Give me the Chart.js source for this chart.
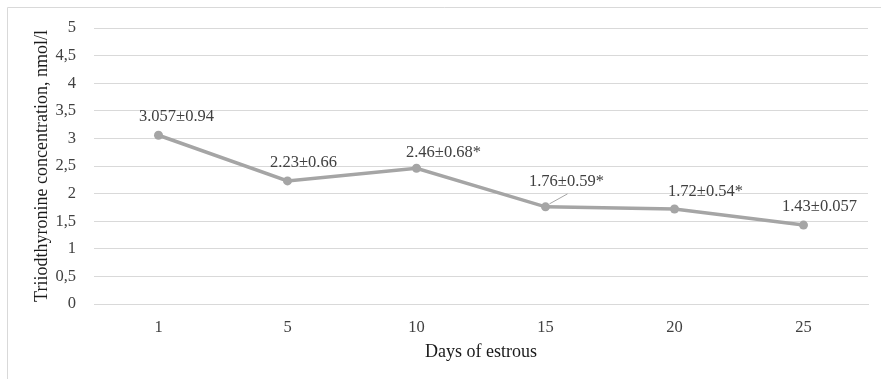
<!DOCTYPE html>
<html>
<head>
<meta charset="utf-8">
<script src="https://cdn.jsdelivr.net/npm/chart.js@4/dist/chart.umd.min.js"></script>
<style>
  html, body { margin: 0; padding: 0; background: #ffffff; }
  #wrap { position: absolute; left: 0; top: 0; width: 881px; height: 379px; }
</style>
</head>
<body>
<div id="wrap"><canvas id="c" width="881" height="379"></canvas></div>
<script>
// Days of the oestrous cycle (categories)
const days = ['1', '5', '10', '15', '20', '25'];
// Mean T3 concentration, nmol/l
const meanT3 = [3.057, 2.23, 2.46, 1.76, 1.72, 1.43];
// Standard deviation
const sdT3 = [0.94, 0.66, 0.68, 0.59, 0.54, 0.057];
// Significance marks
const sigMarks = ['', '', '*', '*', '*', ''];
// Value axis tick labels (decimal comma)
const yTickLabels = ['0', '0,5', '1', '1,5', '2', '2,5', '3', '3,5', '4', '4,5', '5'];

const SERIF = '"Liberation Serif", "Times New Roman", serif';

// Label placement relative to each point (dx, dy); a leader is drawn when flagged
const labelPlacement = [
  { dx: 18, dy: -19 },
  { dx: 16, dy: -18 },
  { dx: 27, dy: -16 },
  { dx: 21, dy: -25, leader: true },
  { dx: 31, dy: -17 },
  { dx: 16, dy: -18 }
];

// Thin frame along the top and left edges
const framePlugin = {
  id: 'frame',
  beforeDraw(chart) {
    const ctx = chart.ctx;
    ctx.save();
    ctx.strokeStyle = '#d9d9d9';
    ctx.lineWidth = 1;
    ctx.beginPath();
    ctx.moveTo(7.5, chart.height);
    ctx.lineTo(7.5, 7.5);
    ctx.lineTo(chart.width, 7.5);
    ctx.stroke();
    ctx.restore();
  }
};

// "mean±sd*" labels next to the points
const valueLabels = {
  id: 'valueLabels',
  afterDatasetsDraw(chart) {
    const ctx = chart.ctx;
    const meta = chart.getDatasetMeta(0);
    ctx.save();
    ctx.font = '16.5px ' + SERIF;
    ctx.fillStyle = '#404040';
    ctx.textAlign = 'center';
    ctx.textBaseline = 'middle';
    meta.data.forEach((pt, i) => {
      const p = labelPlacement[i];
      const text = meanT3[i] + '±' + sdT3[i] + sigMarks[i];
      const lx = pt.x + p.dx, ly = pt.y + p.dy;
      if (p.leader) {
        ctx.strokeStyle = '#a5a5a5';
        ctx.lineWidth = 1;
        ctx.beginPath();
        ctx.moveTo(pt.x + 4, pt.y - 3);
        ctx.lineTo(lx + 1, ly + 12);
        ctx.stroke();
      }
      ctx.fillText(text, lx, ly);
    });
    ctx.restore();
  }
};

new Chart(document.getElementById('c'), {
  type: 'line',
  data: {
    labels: days,
    datasets: [{
      data: meanT3,
      borderColor: '#a5a5a5',
      backgroundColor: '#a5a5a5',
      borderWidth: 3.5,
      pointRadius: 4.5,
      pointBorderWidth: 0,
      pointBackgroundColor: '#a5a5a5',
      tension: 0,
      fill: false
    }]
  },
  options: {
    responsive: false,
    animation: false,
    devicePixelRatio: 1,
    layout: { padding: { top: 28, right: 13, bottom: 0, left: 0 } },
    plugins: {
      legend: { display: false },
      tooltip: { enabled: false }
    },
    scales: {
      x: {
        offset: true,
        grid: { display: false, drawTicks: false },
        border: { display: true, color: '#d9d9d9', width: 1 },
        ticks: {
          padding: 14,
          color: '#404040',
          font: { family: SERIF, size: 16.5 }
        },
        title: {
          display: true,
          text: 'Days of estrous',
          color: '#1a1a1a',
          font: { family: SERIF, size: 18 },
          padding: { top: 0, bottom: 16 }
        },
        afterFit(scale) { scale.height = 75; }
      },
      y: {
        min: 0,
        max: 5,
        ticks: {
          stepSize: 0.5,
          padding: 18,
          color: '#404040',
          font: { family: SERIF, size: 16.5 },
          callback: (v, i) => yTickLabels[i]
        },
        grid: { color: '#d9d9d9', drawTicks: false },
        border: { display: false },
        title: {
          display: true,
          text: 'Triiodthyronine concentration, nmol/l',
          color: '#1a1a1a',
          font: { family: SERIF, size: 18 },
          padding: { top: 31, bottom: 0 }
        },
        afterFit(scale) { scale.width = 94; }
      }
    }
  },
  plugins: [framePlugin, valueLabels]
});
</script>
</body>
</html>
